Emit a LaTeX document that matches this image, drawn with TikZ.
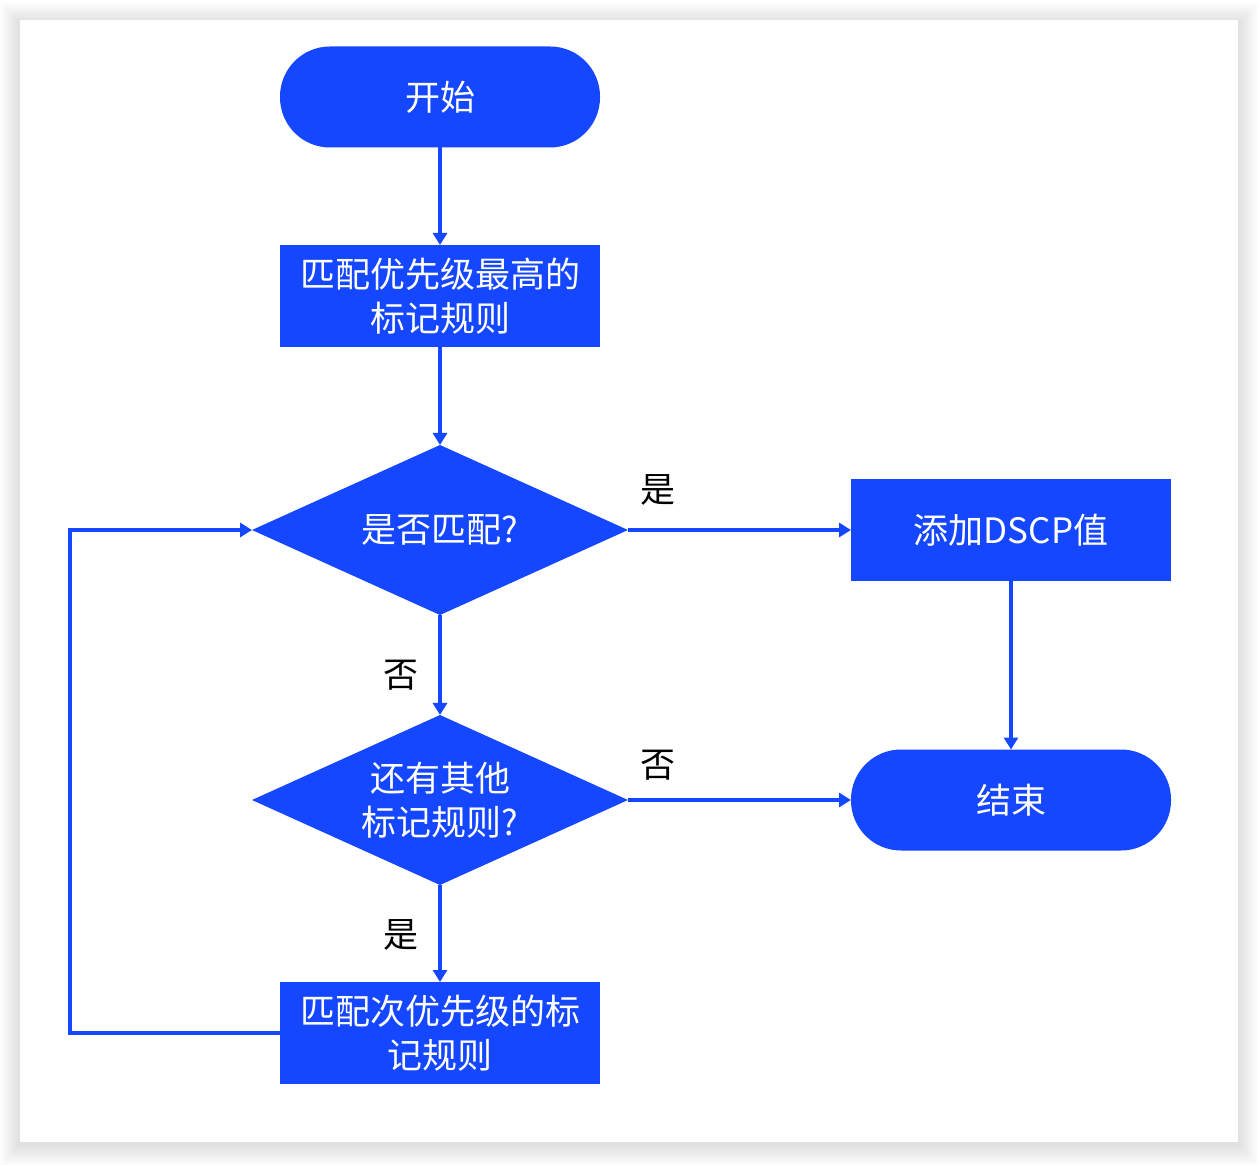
\documentclass[tikz,border=0pt]{standalone}
\usepackage{fontspec}
\setmainfont{Noto Sans CJK SC}
\usetikzlibrary{positioning, arrows.meta, shapes.geometric}
\definecolor{flowblue}{HTML}{1447FF}

\tikzset{
  terminal/.style={draw=none, fill=flowblue, text=white, rounded corners=25pt,
    outer sep=0pt, minimum width=160pt, minimum height=50.5pt,
    font=\fontsize{17.5}{22}\selectfont},
  process/.style={draw=none, fill=flowblue, text=white, align=center, outer sep=0pt,
    minimum width=160pt, minimum height=51pt, font=\fontsize{17.5}{22}\selectfont},
  decision/.style={diamond, draw=none, fill=flowblue, text=white, align=center,
    shape aspect=2.2, inner sep=0pt, outer sep=0pt, minimum width=188pt,
    minimum height=85pt, font=\fontsize{17.5}{22}\selectfont},
  answer/.style={text=black, font=\fontsize{17.5}{20}\selectfont}
}

\begin{document}
\begin{tikzpicture}[x=0.5pt, y=-0.5pt, ->, >={Triangle[length=6pt, width=7pt]},
    line width=2pt, flowblue]
      % card with soft shadow
      \fill[white] (0,0) rectangle (1258,1162);
      \foreach \i in {1,...,10}
        \fill[black, opacity=0.011, draw=none] (20-2*\i,23-2*\i) rectangle (1238+2*\i,1145+2*\i);
      \fill[white] (20,20) rectangle (1238,1142);

      % nodes
      \node[terminal] (start) at (440,97) {开始};
      \node[process] (top) at (440,296) {匹配优先级最高的\\标记规则};
      \node[decision] (match) at (440,530) {是否匹配?};
      \node[process] (dscp) at (1011,530) {添加DSCP值};
      \node[decision] (more) at (440,800) {还有其他\\标记规则?};
      \node[terminal] (stop) at (1011,800) {结束};
      \node[process] (next) at (440,1033) {匹配次优先级的标\\记规则};
      \coordinate (back) at (70,1033);

      % connectors
      \path (start) edge (top)
      (top) edge (match)
      (match) edge (dscp)
      (match) edge (more)
      (dscp) edge (stop)
      (more) edge (stop)
      (more) edge (next);
      \draw (next.west) -- (back) |- (match.west);

      % labels
      \node[answer] (yes1) at (658,490) {是};
      \node[answer] (no1) at (401,675) {否};
      \node[answer] (no2) at (658,765) {否};
      \node[answer] (yes2) at (401,935) {是};
    \end{tikzpicture}
\end{document}
